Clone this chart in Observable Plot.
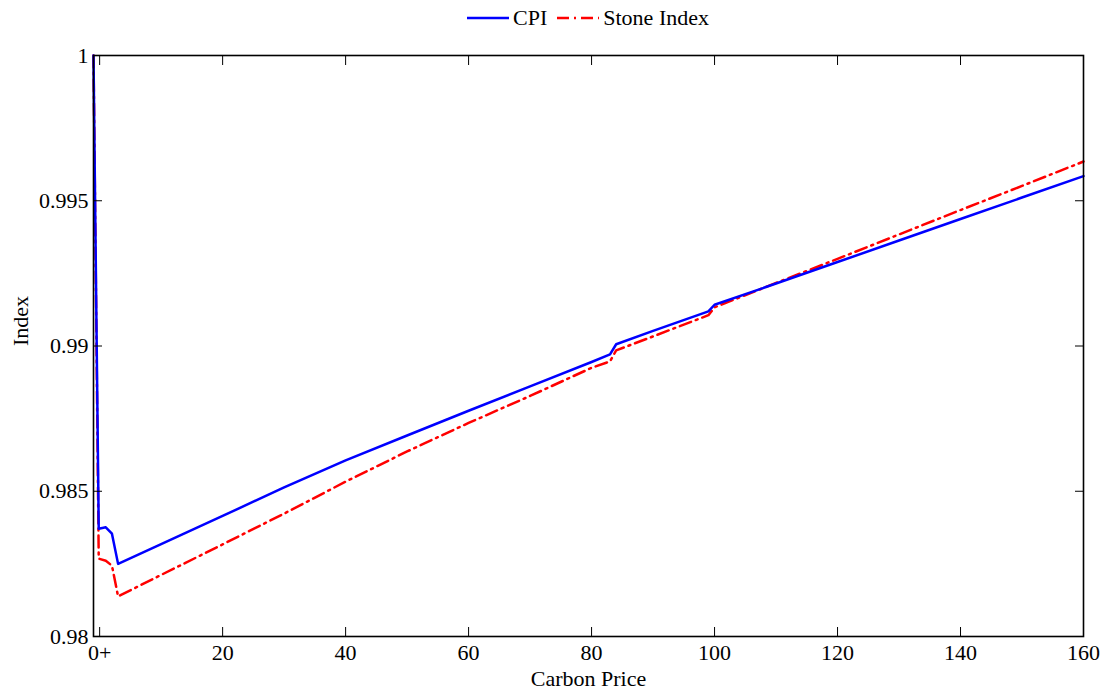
<!DOCTYPE html>
<html>
<head>
<meta charset="utf-8">
<script src="https://cdn.jsdelivr.net/npm/d3@7"></script>
<script src="https://cdn.jsdelivr.net/npm/@observablehq/plot@0.6"></script>
<style>
  html, body { margin: 0; padding: 0; background: #fff; }
  body { font-family: "Liberation Serif", "Times New Roman", serif; }
  #legend { height: 36px; margin-left: 93px; width: 990px; display: flex; align-items: center; justify-content: center; font-size: 22px; color: #000; }
  #legend .item { display: flex; align-items: center; }
  #legend svg { display: block; }
</style>
</head>
<body>
<div id="legend"></div>
<div id="chart"></div>
<script>
// Carbon price (x) — first point is the no-price baseline, second is "0+"
const carbonPrice = [-1, -0.15, 1, 2, 3, 10, 20, 30, 40, 50, 60, 70, 80, 83, 84, 90, 99, 100, 110, 120, 130, 140, 150, 160];
const cpi = [1.0, 0.98371, 0.98376, 0.98354, 0.98250, 0.98318, 0.98415, 0.98513, 0.98606, 0.98692, 0.98777, 0.98861, 0.98945, 0.98971, 0.99006, 0.99052, 0.99119, 0.99142, 0.99215, 0.99289, 0.99363, 0.99437, 0.99511, 0.99585];
const stoneIndex = [1.0, 0.98268, 0.98261, 0.98244, 0.98138, 0.98212, 0.98317, 0.98423, 0.98533, 0.98637, 0.98735, 0.98828, 0.98925, 0.98947, 0.98985, 0.99033, 0.99106, 0.99133, 0.99217, 0.99300, 0.99384, 0.99468, 0.99551, 0.99635];
const seriesNames = ["CPI", "Stone Index"];
const xTicks = [0, 20, 40, 60, 80, 100, 120, 140, 160];
const yTicks = [0.98, 0.985, 0.99, 0.995, 1];

const colors = {"CPI": "#0000ff", "Stone Index": "#ff0000"};
const dashes = {"CPI": null, "Stone Index": "12,5,2,5"};

const cpiData = carbonPrice.map((x, i) => ({x, y: cpi[i]}));
const stoneData = carbonPrice.map((x, i) => ({x, y: stoneIndex[i]}));

// Legend
const legend = document.getElementById("legend");
seriesNames.forEach((name, i) => {
  const item = document.createElement("div");
  item.className = "item";
  item.style.marginLeft = i === 0 ? "0px" : "10px";
  const ns = "http://www.w3.org/2000/svg";
  const s = document.createElementNS(ns, "svg");
  s.setAttribute("width", "42"); s.setAttribute("height", "10");
  const l = document.createElementNS(ns, "line");
  l.setAttribute("x1", "0"); l.setAttribute("x2", "42");
  l.setAttribute("y1", "5"); l.setAttribute("y2", "5");
  l.setAttribute("stroke", colors[name]); l.setAttribute("stroke-width", "2.5");
  if (dashes[name]) l.setAttribute("stroke-dasharray", dashes[name]);
  s.appendChild(l);
  const t = document.createElement("span");
  t.textContent = name;
  t.style.marginLeft = "4px";
  item.appendChild(s); item.appendChild(t);
  legend.appendChild(item);
});

const fmtY = d => String(+d.toFixed(3));
const fmtX = d => d === 0 ? "0+" : String(d);

const chart = Plot.plot({
  width: 1109,
  height: 654,
  marginTop: 19,
  marginLeft: 93,
  marginRight: 26,
  marginBottom: 54,
  style: {fontFamily: "Liberation Serif, Times New Roman, serif", fontSize: "22px", color: "#000", background: "#fff"},
  x: {domain: [-1, 160]},
  y: {domain: [0.98, 1]},
  marks: [
    Plot.line(stoneData, {x: "x", y: "y", stroke: colors["Stone Index"], strokeWidth: 2.5, strokeDasharray: dashes["Stone Index"]}),
    Plot.line(cpiData, {x: "x", y: "y", stroke: colors["CPI"], strokeWidth: 2.5}),
    Plot.axisX(xTicks, {anchor: "bottom", tickSize: -9, fill: "none", label: null}),
    Plot.axisX(xTicks, {anchor: "top", tickSize: -9, fill: "none", label: null}),
    Plot.axisX(xTicks, {anchor: "bottom", tickSize: 0, stroke: "none", tickPadding: 8, tickFormat: fmtX, label: null}),
    Plot.axisY(yTicks, {anchor: "left", tickSize: -9, fill: "none", label: null}),
    Plot.axisY(yTicks, {anchor: "right", tickSize: -9, fill: "none", label: null}),
    Plot.axisY(yTicks, {anchor: "left", tickSize: 0, stroke: "none", tickPadding: 5, tickFormat: fmtY, label: null}),
    Plot.frame({stroke: "#000", strokeWidth: 1.6}),
    Plot.text(["Carbon Price"], {frameAnchor: "bottom", dy: 42, lineAnchor: "middle", fill: "#000"}),
    Plot.text(["Index"], {frameAnchor: "left", dx: -73, rotate: -90, lineAnchor: "middle", fill: "#000"})
  ]
});
document.getElementById("chart").appendChild(chart);
</script>
</body>
</html>
